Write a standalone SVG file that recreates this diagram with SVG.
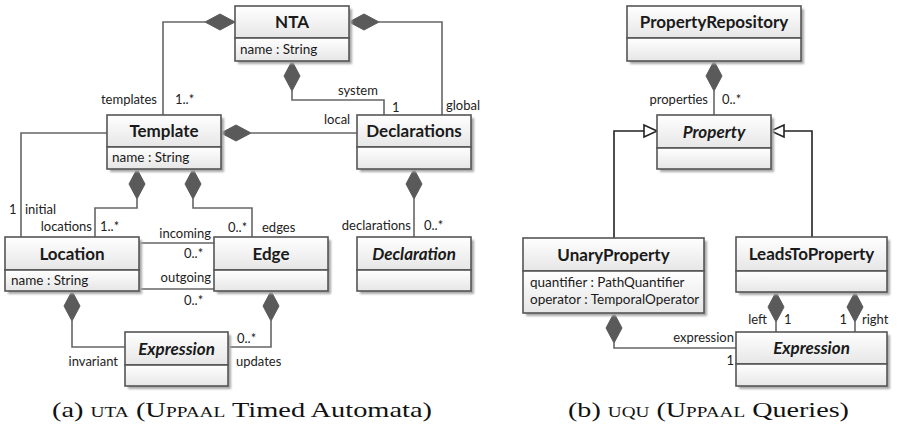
<svg xmlns="http://www.w3.org/2000/svg" width="901" height="435" viewBox="0 0 901 435">
  <defs>
    <linearGradient id="compartment" x1="0" y1="0" x2="0" y2="1">
      <stop offset="0" stop-color="#ffffff"/>
      <stop offset="1" stop-color="#e6e6e6"/>
    </linearGradient>
    <filter id="soft" x="-10%" y="-10%" width="130%" height="130%">
      <feGaussianBlur stdDeviation="0.8"/>
    </filter>
  </defs>
  <style>
    .shadow { fill: #a8a8a8; filter: url(#soft); }
    .box { fill: url(#compartment); stroke: #555555; stroke-width: 1.6; }
    .title { font-family: Lato, "Liberation Sans", sans-serif; font-weight: bold; font-size: 17px; fill: #1a1a1a; text-anchor: middle; }
    .abstract { font-style: italic; }
    .attr { font-family: Lato, "Liberation Sans", sans-serif; font-size: 13.5px; fill: #1a1a1a; }
    .lbl { font-family: Lato, "Liberation Sans", sans-serif; font-size: 13px; fill: #222222; }
    .end { text-anchor: end; }
    .assoc { fill: none; stroke: #666666; stroke-width: 1.6; }
    .gen { fill: none; stroke: #222222; stroke-width: 1.6; }
    .diamond { fill: #5a5a5a; stroke: #5a5a5a; stroke-width: 1; }
    .tri { fill: #ffffff; stroke: #222222; stroke-width: 1.6; }
    .caption { font-family: "Liberation Serif", "DejaVu Serif", serif; font-size: 22px; fill: #111111; }
    .sc { font-variant: small-caps; }
  </style>

  <!-- ===== (a) timed automata metamodel ===== -->
  <g id="connectors-uta">
    <!-- NTA.templates -->
    <path class="assoc" d="M205 22 H163 V115"/>
    <polygon class="diamond" points="235,22 220,14 205,22 220,30"/>
    <!-- NTA.global -->
    <path class="assoc" d="M379 22 H442 V115"/>
    <polygon class="diamond" points="349,22 364,14 379,22 364,30"/>
    <!-- NTA.system -->
    <path class="assoc" d="M292 91 V100 H384 V115"/>
    <polygon class="diamond" points="292,61 284,76 292,91 300,76"/>
    <!-- Template.local -->
    <path class="assoc" d="M251 133 H357"/>
    <polygon class="diamond" points="221,133 236,125 251,133 236,141"/>
    <!-- Template.initial -->
    <path class="assoc" d="M107 133 H21 V237"/>
    <!-- Template.locations -->
    <path class="assoc" d="M137 199 V208 H95 V237"/>
    <polygon class="diamond" points="137,169 129,184 137,199 145,184"/>
    <!-- Template.edges -->
    <path class="assoc" d="M193 199 V208 H252 V237"/>
    <polygon class="diamond" points="193,169 185,184 193,199 201,184"/>
    <!-- Location incoming / outgoing -->
    <path class="assoc" d="M139 243 H214"/>
    <path class="assoc" d="M139 289 H214"/>
    <!-- Location.invariant -->
    <path class="assoc" d="M72 321 V347 H125"/>
    <polygon class="diamond" points="72,291 64,306 72,321 80,306"/>
    <!-- Edge.updates -->
    <path class="assoc" d="M271 321 V347 H228"/>
    <polygon class="diamond" points="271,291 263,306 271,321 279,306"/>
    <!-- Declarations.declarations -->
    <path class="assoc" d="M414 199 V237"/>
    <polygon class="diamond" points="414,169 406,184 414,199 422,184"/>

    <text class="lbl end" x="157" y="104">templates</text>
    <text class="lbl" x="175" y="104">1..*</text>
    <text class="lbl" x="338" y="95">system</text>
    <text class="lbl" x="392" y="112">1</text>
    <text class="lbl" x="446" y="110">global</text>
    <text class="lbl" x="324" y="124">local</text>
    <text class="lbl" x="9" y="214">1</text>
    <text class="lbl" x="25" y="214">initial</text>
    <text class="lbl end" x="92" y="231">locations</text>
    <text class="lbl" x="100" y="231">1..*</text>
    <text class="lbl end" x="211" y="238">incoming</text>
    <text class="lbl" x="228" y="232">0..*</text>
    <text class="lbl" x="262" y="232">edges</text>
    <text class="lbl" x="184" y="258">0..*</text>
    <text class="lbl end" x="211" y="282">outgoing</text>
    <text class="lbl" x="184" y="305">0..*</text>
    <text class="lbl end" x="411" y="230">declarations</text>
    <text class="lbl" x="424" y="230">0..*</text>
    <text class="lbl end" x="118" y="366">invariant</text>
    <text class="lbl" x="237" y="343">0..*</text>
    <text class="lbl" x="236" y="366">updates</text>
  </g>

  <g id="NTA">
    <rect class="shadow" x="238" y="9" width="114" height="55"/>
    <rect class="box" x="235" y="6" width="114" height="32"/>
    <rect class="box" x="235" y="38" width="114" height="23"/>
    <text class="title" x="292" y="28">NTA</text>
    <text class="attr" x="240" y="54">name : String</text>
  </g>

  <g id="Template">
    <rect class="shadow" x="110" y="118" width="114" height="54"/>
    <rect class="box" x="107" y="115" width="114" height="32"/>
    <rect class="box" x="107" y="147" width="114" height="22"/>
    <text class="title" x="164" y="137">Template</text>
    <text class="attr" x="112" y="162">name : String</text>
  </g>

  <g id="Declarations">
    <rect class="shadow" x="360" y="118" width="114" height="54"/>
    <rect class="box" x="357" y="115" width="114" height="32"/>
    <rect class="box" x="357" y="147" width="114" height="22"/>
    <text class="title" x="414" y="137">Declarations</text>
  </g>

  <g id="Location">
    <rect class="shadow" x="8" y="240" width="134" height="54"/>
    <rect class="box" x="5" y="237" width="134" height="33"/>
    <rect class="box" x="5" y="270" width="134" height="21"/>
    <text class="title" x="72" y="260">Location</text>
    <text class="attr" x="11" y="285">name : String</text>
  </g>

  <g id="Edge">
    <rect class="shadow" x="217" y="240" width="114" height="54"/>
    <rect class="box" x="214" y="237" width="114" height="33"/>
    <rect class="box" x="214" y="270" width="114" height="21"/>
    <text class="title" x="271" y="260">Edge</text>
  </g>

  <g id="Declaration">
    <rect class="shadow" x="360" y="240" width="114" height="54"/>
    <rect class="box" x="357" y="237" width="114" height="33"/>
    <rect class="box" x="357" y="270" width="114" height="21"/>
    <text class="title abstract" x="414" y="260">Declaration</text>
  </g>

  <g id="Expression-uta">
    <rect class="shadow" x="128" y="335" width="103" height="54"/>
    <rect class="box" x="125" y="332" width="103" height="33"/>
    <rect class="box" x="125" y="365" width="103" height="21"/>
    <text class="title abstract" x="176.5" y="355">Expression</text>
  </g>

  <!-- ===== (b) query metamodel ===== -->
  <g id="connectors-uqu">
    <!-- PropertyRepository.properties -->
    <path class="assoc" d="M714 91 V115"/>
    <polygon class="diamond" points="714,61 706,76 714,91 722,76"/>
    <!-- generalisations -->
    <path class="gen" d="M614 238 V131 H644"/>
    <polygon class="tri" points="657,131 644,125 644,137"/>
    <path class="gen" d="M812 237 V131 H784"/>
    <polygon class="tri" points="771,131 784,125 784,137"/>
    <!-- UnaryProperty.expression -->
    <path class="assoc" d="M614 343 V348 H736"/>
    <polygon class="diamond" points="614,313 606,328 614,343 622,328"/>
    <!-- LeadsToProperty.left / right -->
    <path class="assoc" d="M776 322 V332"/>
    <polygon class="diamond" points="776,292 768,307 776,322 784,307"/>
    <path class="assoc" d="M855 322 V332"/>
    <polygon class="diamond" points="855,292 847,307 855,322 863,307"/>

    <text class="lbl end" x="708" y="104">properties</text>
    <text class="lbl" x="722" y="104">0..*</text>
    <text class="lbl end" x="734" y="342">expression</text>
    <text class="lbl end" x="734" y="365">1</text>
    <text class="lbl end" x="767" y="324">left</text>
    <text class="lbl" x="784" y="324">1</text>
    <text class="lbl end" x="847" y="324">1</text>
    <text class="lbl" x="862" y="324">right</text>
  </g>

  <g id="PropertyRepository">
    <rect class="shadow" x="630" y="9" width="174" height="55"/>
    <rect class="box" x="627" y="6" width="174" height="32"/>
    <rect class="box" x="627" y="38" width="174" height="23"/>
    <text class="title" x="714" y="28">PropertyRepository</text>
  </g>

  <g id="Property">
    <rect class="shadow" x="660" y="118" width="114" height="54"/>
    <rect class="box" x="657" y="115" width="114" height="33"/>
    <rect class="box" x="657" y="148" width="114" height="21"/>
    <text class="title abstract" x="714" y="138">Property</text>
  </g>

  <g id="UnaryProperty">
    <rect class="shadow" x="526" y="241" width="181" height="75"/>
    <rect class="box" x="523" y="238" width="181" height="33"/>
    <rect class="box" x="523" y="271" width="181" height="42"/>
    <text class="title" x="613.5" y="261">UnaryProperty</text>
    <text class="attr" x="530" y="287">quantifier : PathQuantifier</text>
    <text class="attr" x="530" y="304">operator : TemporalOperator</text>
  </g>

  <g id="LeadsToProperty">
    <rect class="shadow" x="739" y="240" width="151" height="55"/>
    <rect class="box" x="736" y="237" width="151" height="34"/>
    <rect class="box" x="736" y="271" width="151" height="21"/>
    <text class="title" x="811.5" y="260">LeadsToProperty</text>
  </g>

  <g id="Expression-uqu">
    <rect class="shadow" x="739" y="335" width="151" height="54"/>
    <rect class="box" x="736" y="332" width="151" height="32"/>
    <rect class="box" x="736" y="364" width="151" height="22"/>
    <text class="title abstract" x="811.5" y="354">Expression</text>
  </g>

  <!-- captions -->
  <text class="caption" x="52" y="417" textLength="380" lengthAdjust="spacingAndGlyphs">(a) <tspan class="sc">uta</tspan> (U<tspan class="sc">ppaal</tspan> Timed Automata)</text>
  <text class="caption" x="568" y="417" textLength="281" lengthAdjust="spacingAndGlyphs">(b) <tspan class="sc">uqu</tspan> (U<tspan class="sc">ppaal</tspan> Queries)</text>
</svg>
